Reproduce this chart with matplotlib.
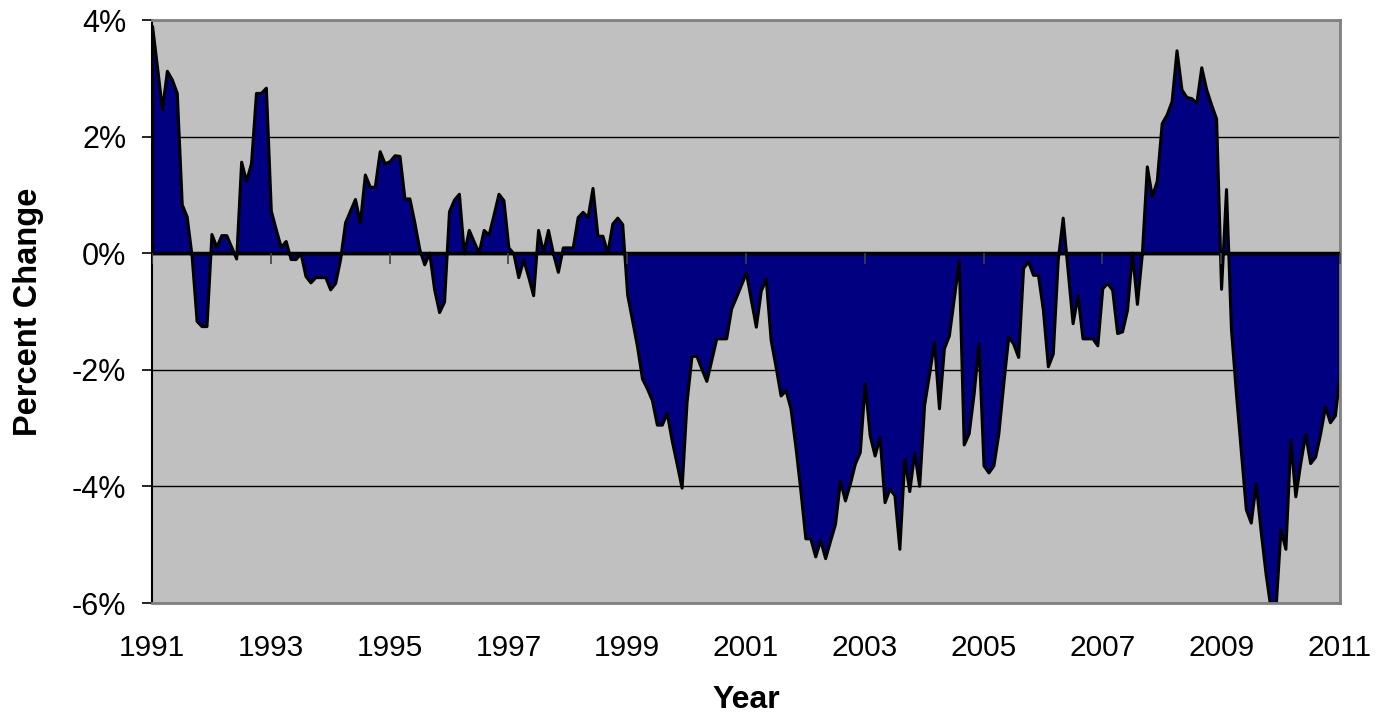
import numpy as np
import matplotlib
matplotlib.use('Agg')
import matplotlib.pyplot as plt

plt.rcParams['font.family'] = ['Liberation Sans', 'DejaVu Sans']

# monthly percent change, Jan 1991 .. Jan 2011
start_year = 1991
pct_change = [
    3.90, 3.20, 2.47, 3.13, 2.98, 2.75, 0.84, 0.63, -0.05, -1.16, -1.25, -1.25,
    0.33, 0.11, 0.31, 0.31, 0.11, -0.09, 1.57, 1.24, 1.55, 2.75, 2.75, 2.84,
    0.73, 0.41, 0.11, 0.21, -0.10, -0.10, 0.00, -0.39, -0.50, -0.41, -0.41, -0.41,
    -0.62, -0.51, -0.10, 0.53, 0.73, 0.93, 0.53, 1.35, 1.14, 1.14, 1.75, 1.54,
    1.58, 1.68, 1.67, 0.94, 0.94, 0.53, 0.07, -0.19, 0.01, -0.62, -1.01, -0.83,
    0.72, 0.92, 1.02, 0.00, 0.40, 0.20, 0.01, 0.40, 0.32, 0.66, 1.02, 0.91,
    0.10, 0.00, -0.41, -0.11, -0.40, -0.72, 0.40, 0.02, 0.40, 0.00, -0.32, 0.10,
    0.10, 0.10, 0.62, 0.71, 0.62, 1.12, 0.30, 0.30, 0.01, 0.51, 0.61, 0.50,
    -0.71, -1.15, -1.60, -2.15, -2.32, -2.52, -2.94, -2.94, -2.74, -3.21, -3.61, -4.02,
    -2.55, -1.76, -1.76, -1.98, -2.19, -1.83, -1.46, -1.46, -1.46, -0.95, -0.75, -0.54,
    -0.33, -0.80, -1.26, -0.64, -0.44, -1.49, -1.95, -2.44, -2.35, -2.66, -3.32, -4.07,
    -4.89, -4.89, -5.20, -4.92, -5.23, -4.93, -4.64, -3.90, -4.24, -3.95, -3.61, -3.41,
    -2.23, -3.12, -3.47, -3.15, -4.27, -4.04, -4.15, -5.07, -3.52, -4.08, -3.42, -3.99,
    -2.60, -2.07, -1.52, -2.66, -1.63, -1.41, -0.77, -0.12, -3.28, -3.09, -2.41, -1.55,
    -3.64, -3.76, -3.64, -3.09, -2.23, -1.43, -1.55, -1.78, -0.25, -0.14, -0.37, -0.37,
    -0.97, -1.94, -1.72, -0.11, 0.61, -0.30, -1.20, -0.72, -1.46, -1.46, -1.46, -1.58,
    -0.60, -0.51, -0.63, -1.37, -1.34, -0.97, 0.01, -0.87, 0.00, 1.49, 0.98, 1.24,
    2.23, 2.38, 2.61, 3.48, 2.81, 2.68, 2.66, 2.58, 3.19, 2.81, 2.55, 2.31,
    -0.61, 1.10, -1.30, -2.40, -3.40, -4.39, -4.62, -3.95, -4.77, -5.50, -6.10, -6.10,
    -4.74, -5.07, -3.20, -4.17, -3.60, -3.10, -3.60, -3.49, -3.10, -2.63, -2.90, -2.78,
    -2.03,
]
year_ticks = [1991, 1993, 1995, 1997, 1999, 2001, 2003, 2005, 2007, 2009, 2011]
pct_ticks = [-6, -4, -2, 0, 2, 4]

vals = np.array(pct_change)
x = start_year + np.arange(len(vals)) / 12.0

fig = plt.figure(figsize=(13.86, 7.15), dpi=100)
ax = fig.add_axes([0.1097, 0.1566, 0.857, 0.8154])
ax.set_facecolor('#C0C0C0')

# gridlines under the area
for t in pct_ticks:
    if t != 0:
        ax.axhline(t, color='black', lw=1.0, zorder=1)

ax.fill_between(x, vals, 0, facecolor='#000080', edgecolor='black',
                linewidth=2.2, zorder=2)
ax.axhline(0, color='black', lw=2.5, zorder=3)
# small tick marks on the zero line
ax.plot(year_ticks, np.zeros(len(year_ticks)), ls='none', marker=3,
        ms=8, mew=1.2, color='#404040', zorder=3)

ax.set_xlim(year_ticks[0], year_ticks[-1])
ax.set_ylim(pct_ticks[0], pct_ticks[-1])
ax.set_xticks(year_ticks)
ax.set_xticklabels([str(y) for y in year_ticks])
ax.set_yticks(pct_ticks)
ax.set_yticklabels([f'{t}%' for t in pct_ticks])

ax.tick_params(axis='x', length=0, pad=22, labelsize=21.5)
ax.tick_params(axis='y', direction='out', length=7, width=1.2, pad=11.5, labelsize=22)

for side in ['top', 'right', 'bottom']:
    ax.spines[side].set_color('#808080')
    ax.spines[side].set_linewidth(2)
ax.spines['left'].set_color('black')
ax.spines['left'].set_linewidth(1.5)

ax.set_xlabel('Year', fontsize=23, fontweight='bold', labelpad=17)
ax.set_ylabel('Percent Change', fontsize=23.5, fontweight='bold', labelpad=20)

fig.savefig('out.png', dpi=100, facecolor='white')
